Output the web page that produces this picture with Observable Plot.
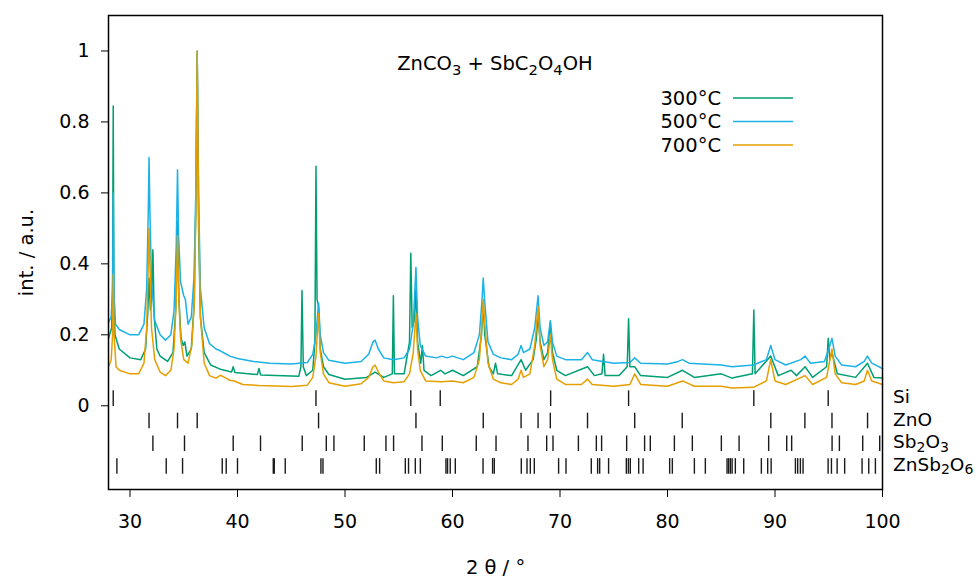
<!DOCTYPE html>
<html><head><meta charset="utf-8">
<script src="https://cdn.jsdelivr.net/npm/d3@7"></script>
<script src="https://cdn.jsdelivr.net/npm/@observablehq/plot@0.6"></script>
<style>body{margin:0;background:#fff} svg{display:block}</style>
</head><body><div id="chart"></div>
<script>
const xTicks = [30, 40, 50, 60, 70, 80, 90, 100];
const yTicks = [0, 0.2, 0.4, 0.6, 0.8, 1];
const seriesNames = ["300°C", "500°C", "700°C"];
const seriesColors = ["#009e73", "#1cb2e6", "#e69f00"];
const title = "ZnCO3 + SbC2O4OH";

const xrd300 = [[28.0,0.19],[28.3,0.22],[28.38,0.35],[28.44,0.845],[28.5,0.35],[28.6,0.2],[29.0,0.16],[30.0,0.135],[31.0,0.13],[31.45,0.16],[31.65,0.26],[31.77,0.36],[31.9,0.27],[32.0,0.3],[32.13,0.44],[32.25,0.25],[32.5,0.16],[32.8,0.14],[33.5,0.125],[34.0,0.15],[34.25,0.27],[34.42,0.52],[34.55,0.3],[34.75,0.19],[34.95,0.17],[35.1,0.18],[35.3,0.14],[35.7,0.16],[35.95,0.28],[36.12,0.55],[36.25,0.99],[36.38,0.5],[36.55,0.25],[36.9,0.15],[37.5,0.115],[38.5,0.102],[39.45,0.095],[39.6,0.11],[39.75,0.094],[41.85,0.088],[42.0,0.105],[42.15,0.087],[45.7,0.083],[45.9,0.11],[46.0,0.325],[46.12,0.11],[46.4,0.085],[47.0,0.1],[47.2,0.18],[47.3,0.675],[47.4,0.3],[47.54,0.28],[47.7,0.16],[48.0,0.11],[48.5,0.088],[50.0,0.075],[52.0,0.08],[52.8,0.095],[53.6,0.08],[54.4,0.09],[54.5,0.31],[54.6,0.09],[55.5,0.09],[56.0,0.18],[56.12,0.43],[56.25,0.22],[56.45,0.24],[56.6,0.33],[56.75,0.18],[57.05,0.12],[57.2,0.17],[57.35,0.1],[58.0,0.085],[58.9,0.1],[59.3,0.09],[60.0,0.1],[61.0,0.085],[62.3,0.11],[62.7,0.2],[62.86,0.29],[63.0,0.2],[63.4,0.11],[63.8,0.09],[64.0,0.12],[64.2,0.09],[65.5,0.085],[66.38,0.13],[66.8,0.1],[67.5,0.13],[67.8,0.19],[67.96,0.26],[68.15,0.18],[68.5,0.13],[68.85,0.15],[69.1,0.235],[69.3,0.15],[69.7,0.1],[70.5,0.085],[72.56,0.11],[73.2,0.085],[73.9,0.09],[74.05,0.145],[74.2,0.085],[75.5,0.085],[76.25,0.11],[76.38,0.245],[76.5,0.11],[76.95,0.11],[77.5,0.085],[80.0,0.08],[81.4,0.1],[82.5,0.08],[85.0,0.09],[86.0,0.078],[87.9,0.09],[88.03,0.27],[88.15,0.09],[89.6,0.14],[90.3,0.085],[91.5,0.1],[92.0,0.085],[92.8,0.11],[93.5,0.08],[94.8,0.11],[94.95,0.19],[95.1,0.13],[95.3,0.15],[95.8,0.09],[97.5,0.08],[98.6,0.12],[99.2,0.08],[100.0,0.078]];
const xrd500 = [[28.0,0.235],[28.25,0.25],[28.38,0.32],[28.44,0.6],[28.5,0.32],[28.65,0.23],[29.0,0.215],[30.0,0.2],[30.8,0.2],[31.3,0.23],[31.55,0.33],[31.7,0.55],[31.77,0.7],[31.85,0.55],[32.0,0.35],[32.3,0.24],[32.8,0.2],[33.3,0.185],[33.8,0.2],[34.1,0.27],[34.3,0.45],[34.42,0.665],[34.52,0.48],[34.7,0.35],[35.0,0.31],[35.15,0.3],[35.4,0.23],[35.7,0.25],[35.95,0.36],[36.12,0.6],[36.25,1.0],[36.38,0.6],[36.55,0.33],[36.9,0.22],[37.4,0.175],[38.0,0.16],[38.4,0.155],[38.8,0.148],[39.3,0.14],[40.0,0.133],[41.5,0.125],[43.0,0.12],[45.0,0.118],[46.5,0.122],[47.0,0.145],[47.3,0.2],[47.54,0.29],[47.7,0.2],[48.0,0.15],[48.5,0.128],[50.0,0.12],[51.5,0.125],[52.2,0.145],[52.6,0.18],[52.8,0.185],[53.1,0.16],[53.6,0.135],[54.5,0.13],[55.5,0.135],[56.0,0.16],[56.35,0.23],[56.6,0.39],[56.75,0.25],[57.0,0.17],[57.5,0.14],[58.5,0.135],[59.0,0.14],[59.5,0.135],[60.0,0.14],[61.0,0.13],[62.0,0.15],[62.5,0.2],[62.75,0.3],[62.86,0.36],[62.98,0.3],[63.3,0.18],[63.8,0.145],[64.5,0.135],[65.5,0.13],[66.1,0.145],[66.38,0.17],[66.6,0.15],[67.2,0.16],[67.65,0.22],[67.96,0.31],[68.15,0.22],[68.5,0.17],[68.85,0.18],[69.1,0.24],[69.3,0.18],[69.7,0.14],[70.5,0.13],[72.0,0.13],[72.56,0.15],[73.0,0.13],[75.0,0.12],[76.5,0.122],[76.95,0.135],[77.5,0.12],[80.0,0.118],[81.0,0.125],[81.4,0.13],[82.0,0.12],[85.0,0.115],[86.0,0.11],[88.0,0.115],[89.2,0.13],[89.6,0.17],[90.0,0.13],[91.0,0.115],[92.4,0.13],[92.8,0.14],[93.3,0.12],[94.6,0.125],[95.0,0.16],[95.3,0.19],[95.6,0.14],[96.2,0.115],[97.5,0.11],[98.3,0.125],[98.6,0.14],[99.0,0.12],[100.0,0.105]];
const xrd700 = [[28.0,0.11],[28.25,0.13],[28.38,0.2],[28.44,0.37],[28.52,0.2],[28.7,0.11],[29.0,0.1],[30.0,0.09],[30.8,0.09],[31.3,0.12],[31.55,0.22],[31.7,0.4],[31.77,0.5],[31.85,0.4],[32.0,0.22],[32.3,0.13],[32.8,0.095],[33.3,0.085],[33.8,0.1],[34.1,0.16],[34.3,0.3],[34.42,0.48],[34.52,0.32],[34.7,0.19],[35.0,0.13],[35.4,0.12],[35.75,0.17],[36.0,0.3],[36.12,0.55],[36.25,1.0],[36.38,0.55],[36.55,0.25],[36.9,0.12],[37.4,0.085],[38.0,0.078],[38.4,0.086],[38.8,0.08],[39.3,0.072],[39.7,0.07],[40.5,0.06],[42.0,0.057],[45.0,0.054],[46.5,0.058],[47.0,0.08],[47.3,0.14],[47.54,0.26],[47.7,0.15],[48.0,0.09],[48.5,0.065],[50.0,0.055],[51.5,0.062],[52.2,0.08],[52.6,0.11],[52.8,0.115],[53.1,0.095],[53.6,0.07],[54.5,0.065],[55.5,0.068],[56.0,0.09],[56.35,0.15],[56.6,0.26],[56.75,0.16],[57.0,0.1],[57.5,0.07],[59.0,0.068],[60.0,0.07],[61.0,0.065],[62.0,0.08],[62.5,0.13],[62.75,0.24],[62.86,0.3],[62.98,0.24],[63.3,0.12],[63.8,0.075],[64.5,0.065],[65.5,0.06],[66.1,0.075],[66.38,0.1],[66.6,0.08],[67.2,0.09],[67.65,0.17],[67.96,0.28],[68.15,0.17],[68.5,0.11],[68.85,0.13],[69.1,0.2],[69.3,0.13],[69.7,0.075],[70.5,0.06],[72.0,0.06],[72.56,0.075],[73.0,0.06],[75.0,0.055],[76.5,0.06],[76.95,0.09],[77.5,0.06],[80.0,0.055],[81.4,0.07],[82.5,0.055],[85.0,0.055],[86.0,0.05],[88.0,0.052],[89.2,0.07],[89.6,0.13],[90.0,0.07],[91.0,0.06],[92.8,0.085],[93.5,0.06],[94.8,0.08],[95.3,0.16],[95.6,0.09],[96.2,0.065],[97.5,0.06],[98.3,0.07],[98.6,0.1],[99.0,0.07],[100.0,0.06]];

// reference reflections
const phaseNames = ["Si", "ZnO", "Sb2O3", "ZnSb2O6"];
const phaseRowY = [0.02, -0.043, -0.107, -0.171];
const refSi = [28.44, 47.30, 56.12, 58.86, 69.13, 76.38, 88.03, 94.95];
const refZnO = [31.77, 34.42, 36.25, 47.54, 56.60, 62.86, 66.38, 67.96, 69.10, 72.56, 76.95, 81.37, 89.61, 92.78, 95.30, 98.61];
const refSb2O3 = [32.13, 35.07, 39.60, 42.14, 46.02, 48.26, 48.97, 51.79, 53.81, 54.52, 57.16, 59.05, 62.21, 64.05, 67.02, 68.76, 69.35, 71.71, 73.38, 73.87, 76.20, 77.87, 78.40, 80.64, 82.31, 85.01, 86.66, 89.41, 91.09, 91.55, 95.31, 95.99, 98.16, 99.74];
const refZnSb2O6 = [28.78, 33.37, 34.89, 38.58, 38.95, 40.00, 43.33, 43.42, 44.44, 47.76, 47.95, 52.91, 53.22, 55.61, 55.91, 56.54, 57.01, 59.39, 59.54, 59.79, 60.26, 62.84, 63.73, 63.89, 66.40, 66.93, 67.24, 67.61, 69.87, 70.56, 72.91, 73.50, 73.69, 74.52, 76.17, 76.36, 76.54, 77.32, 77.73, 80.20, 80.45, 82.50, 83.52, 85.54, 85.69, 85.85, 86.01, 86.31, 87.09, 88.73, 89.32, 89.64, 91.90, 92.11, 92.36, 92.61, 94.94, 95.25, 95.78, 96.48, 98.10, 98.72, 99.34];
const refSets = [refSi, refZnO, refSb2O3, refZnSb2O6];

const FONT = "DejaVu Sans";
const FS = 19.5;
const TFS = 19;
const PFS = 18.5;
const W = 978, H = 579, ML = 108, MR = 96, MT = 15, MB = 90;
const xDomain = [28, 100], yDomain = [-0.236, 1.1];
const tickH = 0.022;

const curves = [xrd300, xrd500, xrd700].flatMap((arr, i) => arr.map(([x, y]) => ({x, y, s: seriesNames[i]})));
const refs = refSets.flatMap((arr, i) => arr.map(x => ({x, row: i})));

// text in which digits following letters are drawn as subscripts
function richText(g, str, x, y, anchor, size, shift) {
  const t = g.append("text").attr("x", x).attr("y", y).attr("text-anchor", anchor)
    .attr("font-family", FONT).attr("font-size", size).attr("fill", "black");
  let sub = false;
  for (const p of str.split(/(?<=[A-Za-z])(?=[0-9])|(?<=[0-9])(?=[^0-9])/)) {
    const isSub = /^[0-9]+$/.test(p);
    const ts = t.append("tspan").text(p);
    if (isSub) { ts.attr("font-size", size * 0.76); if (!sub) ts.attr("dy", size * shift); sub = true; }
    else if (sub) { ts.attr("dy", -size * shift); sub = false; }
  }
  return t;
}

function overlay(index, scales, values, dimensions) {
  const sx = typeof scales.x === "function" ? scales.x : d3.scaleLinear(xDomain, [ML, W - MR]);
  const sy = typeof scales.y === "function" ? scales.y : d3.scaleLinear(yDomain, [H - MB, MT]);
  const g = d3.create("svg:g");
  const right = dimensions.width - dimensions.marginRight;
  const top = dimensions.marginTop;
  richText(g, title, (sx(xDomain[0]) + right) / 2, top + 55, "middle", FS, 0.24);
  seriesNames.forEach((name, i) => {
    const yy = top + 83 + i * 23.5;
    g.append("text").attr("x", right - 161).attr("y", yy).attr("dy", "0.35em")
      .attr("text-anchor", "end").attr("font-family", FONT).attr("font-size", FS).text(name);
    g.append("line").attr("x1", right - 149).attr("x2", right - 89).attr("y1", yy).attr("y2", yy)
      .attr("stroke", seriesColors[i]).attr("stroke-width", 1.5);
  });
  phaseNames.forEach((name, i) => {
    richText(g, name, right + 11, sy(phaseRowY[i]) + 5, "start", PFS, 0.18);
  });
  return g.node();
}

const chart = Plot.plot({
  width: W, height: H,
  marginLeft: ML, marginRight: MR, marginTop: MT, marginBottom: MB,
  style: {fontFamily: FONT, fontSize: TFS + "px", background: "white", color: "black", overflow: "visible"},
  x: {domain: xDomain},
  y: {domain: yDomain},
  color: {domain: seriesNames, range: seriesColors},
  marks: [
    Plot.ruleX(refs, {x: "x", y1: d => phaseRowY[d.row] - tickH, y2: d => phaseRowY[d.row] + tickH, stroke: "#1a1a1a", strokeWidth: 1.4}),
    Plot.line(curves, {x: "x", y: "y", z: "s", stroke: "s", strokeWidth: 1.5, curve: "linear"}),
    Plot.frame({stroke: "black", strokeWidth: 1.5}),
    Plot.axisX({ticks: xTicks, tickSize: 8, tickPadding: 17, tickFormat: d => String(d), fontSize: TFS, label: null, stroke: "black"}),
    Plot.axisY({ticks: yTicks, tickSize: 7, tickPadding: 12, tickFormat: d => String(d), fontSize: TFS, label: null, stroke: "black"}),
    Plot.text(["2 θ / °"], {frameAnchor: "bottom", dy: 84, fontSize: FS, fill: "black"}),
    Plot.text(["int. / a.u."], {frameAnchor: "left", textAnchor: "middle", dx: -82, rotate: -90, fontSize: FS, fill: "black"}),
    overlay
  ]
});
document.getElementById("chart").appendChild(chart);
</script>
</body></html>
